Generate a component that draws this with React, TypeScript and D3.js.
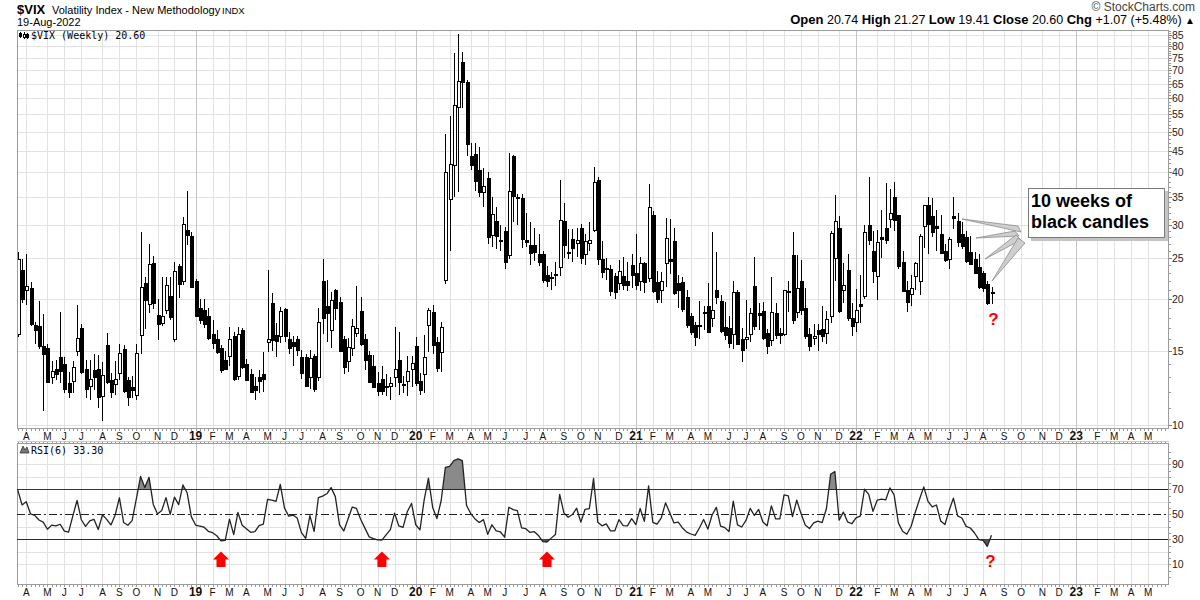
import React from 'react';
import * as d3 from 'd3';

type OHLC = [number, number, number, number];

// closes before the first visible bar (used to seed the RSI)
const warmupCloses = [9.22, 10.16, 11.27, 11.08, 17.31, 29.06, 19.46, 16.49, 19.59, 14.64, 15.8];

// weekly [open, high, low, close], first bar = week ending 23-Mar-2018
const vix2018: OHLC[] = [
  [16.5, 25.9, 16.2, 24.87], [23.4, 24.8, 19.5, 19.97], [21.0, 25.6, 19.3, 21.49], [21.2, 21.9, 17.2, 17.41],
  [17.3, 17.6, 15.6, 16.88], [17.2, 19.8, 15.2, 15.41], [15.4, 18.4, 10.8, 14.77], [15.3, 15.6, 12.6, 12.65],
  [13.0, 14.2, 12.5, 13.42], [13.6, 14.3, 12.8, 13.22], [14.5, 18.6, 12.6, 13.46], [14.0, 14.5, 11.9, 12.18],
  [12.6, 13.4, 11.6, 11.98], [12.7, 14.2, 11.9, 13.77], [15.0, 19.3, 14.6, 16.09], [17.0, 17.4, 13.2, 13.37],
  [13.6, 14.3, 11.6, 12.18], [12.4, 14.3, 11.5, 12.86], [13.5, 14.8, 12.1, 13.03], [13.6, 14.7, 11.0, 11.64],
  [11.7, 14.1, 10.2, 13.16], [15.5, 16.6, 12.5, 12.64], [12.8, 13.3, 11.6, 11.99], [12.5, 14.2, 11.8, 12.86],
  [13.3, 15.6, 12.8, 14.88], [15.2, 15.5, 11.9, 12.07], [12.8, 13.0, 11.1, 11.68], [12.3, 13.1, 11.6, 12.12],
  [11.8, 15.6, 11.5, 14.82], [16.4, 28.8, 14.8, 21.31], [21.8, 22.5, 16.9, 19.89], [19.4, 27.0, 18.5, 24.16],
  [24.3, 25.3, 18.9, 19.51], [18.3, 20.0, 15.9, 17.36], [17.5, 22.5, 17.2, 18.14], [18.8, 22.5, 18.4, 21.52],
  [20.3, 22.5, 17.8, 18.07], [16.0, 24.4, 15.8, 23.23], [23.9, 24.2, 20.1, 21.63], [22.0, 31.3, 21.6, 30.11],
  [29.2, 36.2, 26.9, 28.34],
];

const vix2019: OHLC[] = [
  [28.2, 28.8, 21.2, 21.38], [22.0, 22.3, 18.1, 18.19], [19.0, 20.0, 17.4, 17.8], [18.8, 20.0, 17.0, 17.42],
  [18.2, 19.0, 15.9, 16.14], [16.5, 17.8, 15.2, 15.72], [16.0, 16.8, 14.8, 14.91], [15.3, 15.5, 13.3, 13.51],
  [14.3, 15.0, 13.5, 13.57], [14.6, 17.1, 13.8, 16.05], [16.3, 16.7, 12.7, 12.88], [13.1, 17.1, 12.8, 16.48],
  [16.8, 17.0, 13.6, 13.71], [14.0, 14.4, 12.7, 12.82], [13.2, 13.6, 11.9, 12.01], [12.4, 13.0, 11.5, 12.09],
  [13.0, 13.5, 11.9, 12.73], [13.2, 14.9, 12.0, 12.87], [15.8, 23.4, 14.9, 16.04], [19.5, 20.6, 15.0, 15.96],
  [16.4, 17.5, 14.5, 15.85], [16.3, 19.1, 15.7, 18.71], [18.9, 19.0, 15.8, 16.3], [16.0, 16.7, 14.8, 15.28],
  [15.8, 16.3, 13.8, 15.4], [16.0, 16.3, 14.6, 15.08], [14.5, 15.1, 12.9, 13.28], [14.5, 14.8, 12.4, 12.39],
  [13.0, 15.1, 12.2, 14.45], [14.6, 14.8, 12.0, 12.16], [13.0, 19.0, 12.7, 17.61], [22.0, 24.8, 16.5, 17.97],
  [19.2, 22.1, 15.8, 18.47], [16.8, 20.7, 15.3, 19.87], [21.0, 21.1, 17.8, 18.98], [19.6, 20.2, 14.9, 15.0],
  [16.0, 16.3, 13.2, 13.74], [14.2, 16.1, 13.4, 15.32], [15.3, 17.9, 14.6, 17.22], [16.6, 21.5, 16.2, 17.04],
  [18.7, 20.2, 15.4, 15.58], [16.0, 16.5, 13.5, 14.25], [14.7, 15.0, 12.6, 12.65], [13.8, 14.7, 12.3, 12.3],
  [12.6, 13.4, 11.7, 12.07], [12.9, 13.8, 11.8, 12.05], [12.4, 13.2, 11.7, 12.34], [12.4, 13.0, 11.5, 12.62],
  [13.0, 17.1, 12.3, 13.62], [14.3, 16.7, 11.8, 12.63], [12.5, 13.1, 11.9, 12.51], [12.7, 14.6, 11.7, 13.43],
];

const vix2020: OHLC[] = [
  [13.6, 14.6, 12.3, 14.02], [15.4, 16.2, 12.4, 12.56], [12.7, 13.3, 11.8, 12.1], [13.2, 16.4, 11.9, 14.56],
  [17.3, 19.0, 14.9, 18.84], [18.6, 19.3, 14.8, 15.47], [15.8, 16.2, 13.4, 13.68], [14.9, 17.6, 13.4, 17.08],
  [22.2, 49.5, 21.7, 40.11], [34.5, 54.5, 26.0, 41.94], [41.6, 77.0, 35.0, 57.83], [57.3, 85.5, 36.0, 66.04],
  [73.4, 77.5, 57.0, 65.54], [65.6, 66.5, 43.7, 46.8], [43.8, 47.0, 40.5, 41.67], [44.2, 47.0, 36.2, 38.15],
  [40.5, 46.0, 35.0, 35.93], [36.0, 41.0, 33.0, 37.19], [38.8, 40.0, 27.0, 27.98], [28.4, 35.0, 26.5, 31.89],
  [30.6, 33.0, 26.3, 28.16], [27.6, 30.0, 26.0, 27.51], [29.0, 29.6, 23.5, 24.52], [25.4, 44.4, 24.8, 36.09],
  [43.8, 44.0, 30.5, 35.12], [34.9, 35.5, 30.0, 34.73], [34.8, 35.5, 26.4, 27.68], [27.6, 32.0, 26.5, 27.29],
  [26.9, 30.5, 24.0, 25.68], [26.9, 29.5, 24.6, 25.84], [25.6, 28.5, 23.9, 24.46], [25.6, 26.0, 21.8, 22.21],
  [22.8, 23.9, 21.3, 22.05], [22.4, 23.2, 21.0, 22.54], [22.9, 24.5, 21.5, 22.96], [23.8, 38.3, 22.6, 30.75],
  [30.6, 33.9, 25.0, 26.87], [25.8, 29.3, 24.8, 25.83], [27.8, 29.3, 24.5, 26.38], [27.2, 29.5, 25.1, 27.63],
  [29.5, 30.2, 24.2, 25.0], [25.6, 28.5, 24.0, 27.41], [27.2, 30.5, 26.0, 27.55], [29.2, 41.2, 28.9, 38.02],
  [38.4, 39.0, 24.0, 24.86], [24.8, 27.4, 22.4, 23.1], [23.6, 25.0, 22.2, 23.7], [23.6, 24.0, 20.3, 20.84],
  [22.7, 23.0, 20.0, 20.79], [21.8, 24.7, 21.0, 23.31], [22.6, 25.1, 21.0, 21.57], [22.0, 24.5, 20.9, 21.53],
  [24.1, 25.5, 21.2, 22.75],
];

const vix2021: OHLC[] = [
  [23.0, 28.6, 21.0, 21.56], [22.0, 25.1, 20.9, 24.34], [24.3, 24.4, 20.6, 21.91], [22.4, 37.5, 21.9, 33.09],
  [31.6, 32.4, 20.6, 20.87], [21.9, 23.3, 19.5, 19.97], [21.0, 23.1, 19.5, 22.05], [24.3, 31.2, 21.3, 27.95],
  [24.9, 31.0, 22.9, 24.66], [27.4, 29.5, 20.4, 20.69], [21.8, 22.8, 19.0, 20.95], [21.9, 22.5, 18.6, 18.86],
  [20.2, 21.0, 17.0, 17.33], [18.2, 18.5, 16.4, 16.69], [17.3, 17.6, 15.4, 16.25], [17.2, 19.8, 16.0, 17.33],
  [18.6, 19.2, 16.8, 18.61], [19.2, 21.8, 16.6, 16.69], [18.0, 28.9, 17.1, 18.81], [21.0, 25.9, 19.4, 20.15],
  [19.8, 20.4, 16.6, 16.76], [17.1, 19.6, 15.9, 16.42], [17.0, 18.2, 15.3, 15.65], [16.5, 22.0, 15.2, 20.7],
  [20.7, 21.0, 15.6, 15.62], [16.0, 17.0, 14.1, 15.07], [16.0, 19.9, 15.2, 16.18], [16.5, 19.0, 15.8, 18.45],
  [21.5, 25.1, 16.8, 17.2], [18.5, 19.5, 16.8, 18.24], [18.7, 19.6, 15.9, 16.15], [16.6, 16.9, 14.8, 15.45],
  [15.9, 22.5, 15.4, 18.56], [18.5, 19.5, 16.0, 16.39], [16.6, 17.0, 15.6, 16.41], [16.5, 21.0, 16.3, 20.95],
  [20.9, 22.0, 18.6, 20.81], [25.4, 28.8, 17.4, 17.75], [18.6, 25.4, 18.0, 21.15], [22.0, 24.7, 18.3, 18.77],
  [19.0, 21.2, 16.0, 16.3], [16.5, 17.0, 15.0, 15.43], [16.1, 17.4, 15.5, 16.26], [16.8, 17.4, 15.0, 16.48],
  [16.9, 19.2, 15.8, 16.29], [16.6, 18.7, 15.6, 17.91], [18.2, 29.0, 17.5, 28.62], [25.0, 35.3, 22.0, 30.67],
  [29.4, 31.4, 18.5, 18.69], [21.0, 24.3, 19.5, 21.57], [23.4, 25.5, 17.7, 17.96], [18.0, 19.5, 16.3, 17.22],
];

const vix2022: OHLC[] = [
  [17.6, 21.1, 16.7, 18.76], [19.4, 22.8, 17.5, 19.19], [20.3, 30.0, 20.0, 28.85], [30.0, 38.9, 26.8, 27.66],
  [26.0, 29.0, 21.8, 23.22], [22.6, 29.2, 19.9, 27.36], [28.0, 32.6, 25.0, 27.75], [29.5, 37.8, 27.0, 27.59],
  [31.0, 36.6, 29.5, 31.98], [35.0, 38.0, 29.0, 30.75], [31.6, 31.7, 23.6, 23.87], [24.5, 26.0, 20.7, 20.81],
  [21.0, 22.0, 18.6, 19.63], [20.5, 22.8, 19.2, 21.16], [22.6, 24.4, 21.0, 24.37], [22.0, 28.5, 20.4, 28.21],
  [29.8, 33.5, 26.4, 33.4], [33.5, 35.0, 25.6, 30.19], [31.5, 34.8, 28.0, 28.87], [29.8, 32.6, 26.0, 29.43],
  [28.5, 31.6, 25.5, 25.72], [26.0, 27.0, 24.4, 24.79], [24.8, 28.0, 23.5, 27.75], [31.4, 35.0, 29.3, 31.13],
  [30.7, 32.0, 26.6, 27.23], [28.5, 30.5, 26.3, 26.7], [28.0, 29.0, 24.3, 24.64], [25.8, 28.2, 24.0, 24.23],
  [24.8, 25.9, 22.9, 23.03], [23.8, 25.5, 21.1, 21.33], [23.0, 23.3, 20.7, 21.15], [21.7, 22.0, 19.3, 19.53],
  [20.74, 21.27, 19.41, 20.6],
];

const priceTicks = [10, 15, 20, 25, 30, 35, 40, 45, 50, 55, 60, 65, 70, 75, 80, 85];
const rsiLabels = [10, 30, 50, 70, 90];
const rsiGrid = [10, 20, 40, 60, 80, 90];
const monthLetters = ['J', 'F', 'M', 'A', 'M', 'J', 'J', 'A', 'S', 'O', 'N', 'D'];
const arrowWeeks = [48, 86, 125];
const calloutTips: [number, number][] = [[962, 219], [976, 238], [985, 259], [992, 281]];
const calloutBases: [number, number, number, number][] = [
  [1018, 226, 1021, 232], [1015, 231, 1019, 236], [1016, 235, 1021, 240], [1018, 238, 1025, 243],
];

const SANS = '"Liberation Sans", Arial, Helvetica, sans-serif';
const MONO = '"DejaVu Sans Mono", monospace';

function wilderRsi(closes: number[], period: number): number[] {
  const out = new Array(closes.length).fill(NaN);
  let ag = 0;
  let al = 0;
  for (let k = 1; k <= period; k++) {
    const d = closes[k] - closes[k - 1];
    if (d > 0) ag += d;
    else al -= d;
  }
  ag /= period;
  al /= period;
  out[period] = al === 0 ? 100 : 100 - 100 / (1 + ag / al);
  for (let k = period + 1; k < closes.length; k++) {
    const d = closes[k] - closes[k - 1];
    ag = (ag * (period - 1) + Math.max(d, 0)) / period;
    al = (al * (period - 1) + Math.max(-d, 0)) / period;
    out[k] = al === 0 ? 100 : 100 - 100 / (1 + ag / al);
  }
  return out;
}

export default function App() {
  const candles: OHLC[] = [...vix2018, ...vix2019, ...vix2020, ...vix2021, ...vix2022];
  const n = candles.length;
  const L = 17;
  const R = 1168;
  const mainTop = 30;
  const mainBot = 428;
  const rsiTop = 443;
  const rsiBot = 584;

  const x = d3.scaleLinear().domain([0, n - 1]).range([17.8, 991.5]);
  const y = d3.scaleLog().domain([10, 85]).range([425, 35]);
  const yr = d3.scaleLinear().domain([0, 100]).range([576.8, 451.8]);

  const allCloses = [...warmupCloses, ...candles.map((c) => c[3])];
  const rsi = wilderRsi(allCloses, 6).slice(warmupCloses.length);

  const maxIdx = Math.floor(x.invert(R));
  const weekIdx = d3.range(0, maxIdx + 1);
  const months: { i: number; m: number; yr: number }[] = [];
  const seen = new Set<number>();
  weekIdx.forEach((i) => {
    const dt = new Date(2018, 2, 23 + 7 * i);
    const key = dt.getFullYear() * 12 + dt.getMonth();
    if (dt.getDate() >= 5 && !seen.has(key)) {
      seen.add(key);
      if (i > 0) months.push({ i, m: dt.getMonth(), yr: dt.getFullYear() });
    }
  });

  const minorPrice = d3.range(10, 88, 1);

  const rsiPts = rsi.map((v, i) => [x(i), yr(v)] as [number, number]);
  const rsiLine = d3.line()(rsiPts) || '';
  const areaHigh = d3.area<[number, number]>().x((d) => d[0]).y0(yr(70)).y1((d) => d[1])(rsiPts) || '';
  const areaLow = d3.area<[number, number]>().x((d) => d[0]).y0(yr(30)).y1((d) => d[1])(rsiPts) || '';

  const xAxisLabels = (baseY: number) =>
    months
      .filter((mo) => x(mo.i) < R - 8)
      .map((mo) => (
        <text
          key={`${baseY}-${mo.i}`}
          x={x(mo.i)}
          y={baseY}
          textAnchor="middle"
          fontFamily={SANS}
          fontSize={mo.m === 0 ? 12 : 10}
          fontWeight={mo.m === 0 ? 'bold' : 'normal'}
          fill="#111"
        >
          {mo.m === 0 ? String(mo.yr).slice(2) : monthLetters[mo.m]}
        </text>
      ));

  const weekTicks = (y1: number, y2: number) =>
    weekIdx.map((i) => (
      <line key={`${y1}-${i}`} x1={Math.round(x(i)) + 0.5} x2={Math.round(x(i)) + 0.5} y1={y1} y2={y2} stroke="#9a9a9a" strokeWidth={1} />
    ));

  return (
    <svg width={1200} height={600} style={{ position: 'absolute', left: 0, top: 0, background: '#fff' }}>
      <rect x={0} y={0} width={1200} height={600} fill="#fff" />
      <defs>
        <clipPath id="clipMain">
          <rect x={L} y={mainTop} width={R - L} height={mainBot - mainTop} />
        </clipPath>
        <clipPath id="clipHigh">
          <rect x={L} y={rsiTop} width={R - L} height={yr(70) - rsiTop} />
        </clipPath>
        <clipPath id="clipLow">
          <rect x={L} y={yr(30)} width={R - L} height={rsiBot - yr(30)} />
        </clipPath>
      </defs>

      {/* header */}
      <text x={17} y={14} fontFamily={SANS} fontSize={13} fontWeight="bold" fill="#000">$VIX</text>
      <text x={52} y={14} fontFamily={SANS} fontSize={11} fill="#000">Volatility Index - New Methodology</text>
      <text x={222} y={14} fontFamily={SANS} fontSize={9.5} fill="#000">INDX</text>
      <text x={17} y={26} fontFamily={SANS} fontSize={11} fill="#000">19-Aug-2022</text>
      <text x={1195} y={11} textAnchor="end" fontFamily={SANS} fontSize={12} fill="#444">© StockCharts.com</text>
      <text x={1195} y={24} textAnchor="end" fontFamily={SANS} fontSize={12.5} fill="#000">
        <tspan fontWeight="bold" fontSize={13}>Open</tspan>
        <tspan> 20.74 </tspan>
        <tspan fontWeight="bold" fontSize={13}> High</tspan>
        <tspan> 21.27 </tspan>
        <tspan fontWeight="bold" fontSize={13}> Low</tspan>
        <tspan> 19.41 </tspan>
        <tspan fontWeight="bold" fontSize={13}> Close</tspan>
        <tspan> 20.60 </tspan>
        <tspan fontWeight="bold" fontSize={13}> Chg</tspan>
        <tspan> +1.07 (+5.48%) </tspan>
        <tspan fontSize={10}>▲</tspan>
      </text>

      {/* main grid */}
      <g shapeRendering="crispEdges">
        {priceTicks.map((t) => (
          <line key={`hg${t}`} x1={L} x2={R} y1={Math.round(y(t)) + 0.5} y2={Math.round(y(t)) + 0.5} stroke="#e2e2e2" />
        ))}
        {months.map((mo) => (
          <line key={`vg${mo.i}`} x1={Math.round(x(mo.i)) + 0.5} x2={Math.round(x(mo.i)) + 0.5} y1={mainTop} y2={mainBot}
            stroke={mo.m === 0 ? '#c4c4c4' : '#e2e2e2'} />
        ))}
        {rsiGrid.map((t) => (
          <line key={`rg${t}`} x1={L} x2={R} y1={Math.round(yr(t)) + 0.5} y2={Math.round(yr(t)) + 0.5} stroke="#e2e2e2" />
        ))}
        {months.map((mo) => (
          <line key={`rvg${mo.i}`} x1={Math.round(x(mo.i)) + 0.5} x2={Math.round(x(mo.i)) + 0.5} y1={rsiTop} y2={rsiBot}
            stroke={mo.m === 0 ? '#c4c4c4' : '#e2e2e2'} />
        ))}
      </g>

      {/* candles */}
      <g clipPath="url(#clipMain)" shapeRendering="crispEdges">
        {candles.map(([o, h, l, c], i) => {
          const cx = Math.round(x(i)) + 0.5;
          const up = c > o;
          const top = Math.round(y(Math.max(o, c))) + 0.5;
          const bot = Math.round(y(Math.min(o, c))) + 0.5;
          return (
            <g key={`c${i}`}>
              <line x1={cx} x2={cx} y1={y(h)} y2={y(l)} stroke="#000" strokeWidth={1} />
              <rect x={cx - 1} y={top} width={3} height={Math.max(1, bot - top)} fill={up ? '#fff' : '#000'} stroke="#000" strokeWidth={1} />
            </g>
          );
        })}
      </g>

      {/* panel borders */}
      <g shapeRendering="crispEdges" fill="none" stroke="#9c9c9c">
        <rect x={L + 0.5} y={mainTop + 0.5} width={R - L} height={mainBot - mainTop} />
        <rect x={L + 0.5} y={rsiTop + 0.5} width={R - L} height={rsiBot - rsiTop} />
      </g>
      <g shapeRendering="crispEdges">
        {weekTicks(mainBot + 1, mainBot + 3)}
        {weekTicks(rsiTop - 2, rsiTop)}
        {weekTicks(rsiBot + 1, rsiBot + 3)}
        <line x1={L} x2={R + 1} y1={rsiTop - 1.5} y2={rsiTop - 1.5} stroke="#c8c8c8" />
      </g>

      {/* right price axis */}
      <g shapeRendering="crispEdges">
        {minorPrice.map((t) => (
          <line key={`mt${t}`} x1={R + 1} x2={R + 3} y1={Math.round(y(t)) + 0.5} y2={Math.round(y(t)) + 0.5} stroke="#9a9a9a" />
        ))}
        {priceTicks.map((t) => (
          <line key={`pt${t}`} x1={R + 1} x2={R + 4} y1={Math.round(y(t)) + 0.5} y2={Math.round(y(t)) + 0.5} stroke="#777" />
        ))}
      </g>
      {priceTicks.map((t) => (
        <text key={`pl${t}`} x={R + 4} y={y(t) + 4} fontFamily={SANS} fontSize={10.5} fill="#222">{t}</text>
      ))}

      {/* x axis labels */}
      {xAxisLabels(440)}
      {xAxisLabels(596)}

      {/* legend main */}
      <g transform="translate(19,32)" stroke="#000" strokeWidth={1} shapeRendering="crispEdges">
        <line x1={1.5} x2={1.5} y1={0} y2={6} />
        <rect x={0.5} y={1.5} width={2} height={3} fill="#000" />
        <line x1={5.5} x2={5.5} y1={0} y2={7} />
        <rect x={4.5} y={2.5} width={2} height={3} fill="#fff" />
        <line x1={8.5} x2={8.5} y1={1} y2={7} />
        <rect x={7.5} y={2.5} width={2} height={3} fill="#000" />
      </g>
      <text x={31} y={38.5} fontFamily={MONO} fontSize={10} fill="#000">$VIX (Weekly) 20.60</text>

      {/* RSI panel */}
      <g shapeRendering="crispEdges">
        <line x1={L} x2={R} y1={Math.round(yr(70)) + 0.5} y2={Math.round(yr(70)) + 0.5} stroke="#222" />
        <line x1={L} x2={R} y1={Math.round(yr(30)) + 0.5} y2={Math.round(yr(30)) + 0.5} stroke="#222" />
        <line x1={L} x2={R} y1={Math.round(yr(50)) + 0.5} y2={Math.round(yr(50)) + 0.5} stroke="#222" strokeDasharray="8,3,2,3" />
      </g>
      <path d={areaHigh} fill="#8a8a8a" clipPath="url(#clipHigh)" />
      <path d={areaLow} fill="#555" clipPath="url(#clipLow)" />
      <path d={rsiLine} fill="none" stroke="#222" strokeWidth={1.3} strokeLinejoin="round" />
      <g shapeRendering="crispEdges">
        {d3.range(0, 101, 5).map((t) => (
          <line key={`rmt${t}`} x1={R + 1} x2={R + 3} y1={Math.round(yr(t)) + 0.5} y2={Math.round(yr(t)) + 0.5} stroke="#9a9a9a" />
        ))}
      </g>
      {rsiLabels.map((t) => (
        <text key={`rl${t}`} x={R + 4} y={yr(t) + 4} fontFamily={SANS} fontSize={10.5} fill="#222">{t}</text>
      ))}
      <path d="M20,453 L23,446 L25,450 L27,447 L29,453 Z" fill="#777" stroke="#333" strokeWidth={0.8} />
      <text x={31} y={453.5} fontFamily={MONO} fontSize={10} fill="#000">RSI(6) 33.30</text>

      {/* red arrows */}
      {arrowWeeks.map((w) => {
        const cx = x(w);
        return (
          <path key={`ar${w}`} d={`M${cx - 8},559.5 L${cx},551.5 L${cx + 8},559.5 L${cx + 4.5},559.5 L${cx + 4.5},567 L${cx - 4.5},567 L${cx - 4.5},559.5 Z`} fill="#ff0000" />
        );
      })}
      <text x={x(n - 1) + 2} y={325} textAnchor="middle" fontFamily={SANS} fontSize={17} fontWeight="bold" fill="#ff0000">?</text>
      <text x={x(n - 1) - 1} y={567} textAnchor="middle" fontFamily={SANS} fontSize={17} fontWeight="bold" fill="#ff0000">?</text>

      {/* callout */}
      {calloutTips.map((tp, k) => {
        const b = calloutBases[k];
        return (
          <polygon key={`w${k}`} points={`${tp[0]},${tp[1]} ${b[0]},${b[1]} ${b[2]},${b[3]}`} fill="#cfcfcf" stroke="#8c8c8c" strokeWidth={0.8} />
        );
      })}
      <rect x={1031} y={191} width={137} height={50} fill="#c4c4c4" />
      <rect x={1028.5} y={188.5} width={136} height={49} fill="#fff" stroke="#7a7a7a" strokeWidth={1} />
      <text x={1031} y={207} fontFamily={SANS} fontSize={18} fontWeight="bold" fill="#000">10 weeks of</text>
      <text x={1031} y={228} fontFamily={SANS} fontSize={18} fontWeight="bold" fill="#000">black candles</text>
    </svg>
  );
}
